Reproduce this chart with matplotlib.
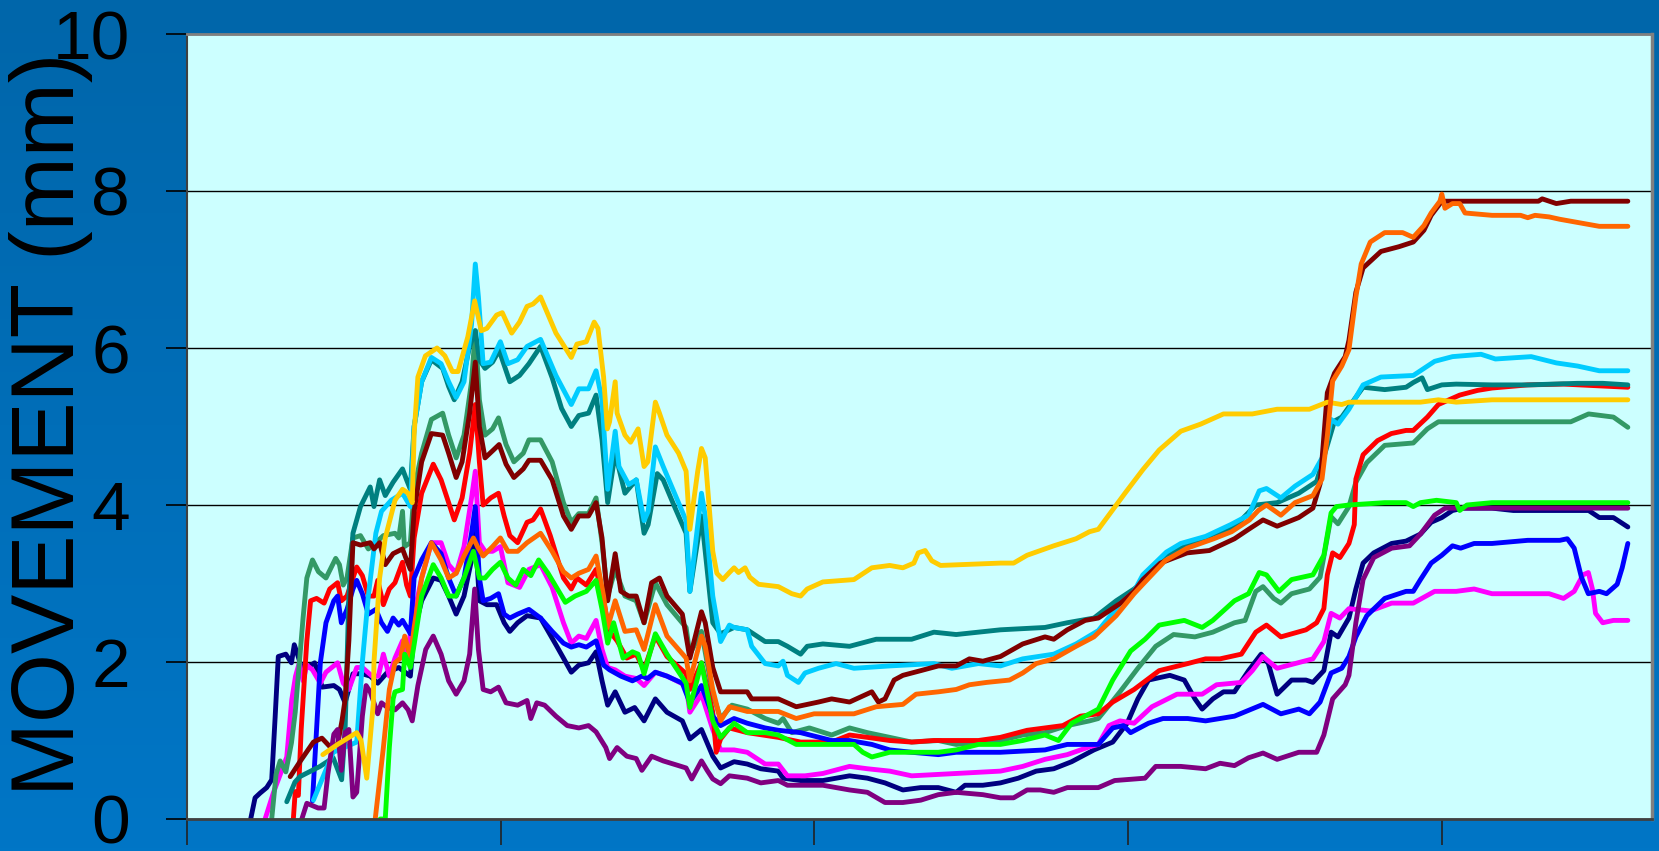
import numpy as np
import matplotlib
matplotlib.use('Agg')
from matplotlib import pyplot as plt
from matplotlib.colors import LinearSegmentedColormap
from matplotlib.patches import Arc

plt.rcParams['font.family'] = ['Liberation Sans', 'DejaVu Sans']

# data: (x, movement mm), x in tick units (ticks every 100)
navy = [(20.3,0),(21.7,0.27),(23.3,0.33),(25.4,0.40),(27.0,0.50),(28.1,1.30),(29.1,2.07),(31.5,2.10),(33.3,1.99),(34.2,2.22),(35.2,2.10),(36.5,1.93),(38.2,1.93),(40.7,1.99),(43.1,1.68),(46.8,1.70),(48.6,1.65),(50.4,1.48),(52.9,1.85),(55.9,1.85),(58.4,1.82),(60.8,1.73),(63.9,1.87),(67.5,1.93),(71.2,1.82),(72.4,2.39),(74.8,2.78),(78.5,3.07),(81.0,3.04),(83.4,2.84),(85.8,2.61),(88.3,2.84),(90.7,3.30),(91.9,3.64),(93.2,2.78),(95.6,2.73),(98.7,2.73),(101.1,2.50),(102.9,2.39),(105.4,2.50),(108.4,2.59),(112.7,2.56),(117.6,2.22),(120.0,2.05),(122.5,1.87),(124.9,1.96),(128.0,1.99),(130.4,2.13),(132.3,1.76),(134.1,1.45),(136.5,1.62),(139.6,1.36),(142.7,1.42),(145.7,1.25),(149.3,1.53),(153.0,1.36),(157.9,1.25),(160.3,1.02),(164.0,1.14),(167.6,0.80),(170.1,0.65),(174.4,0.73),(178.6,0.70),(182.9,0.64),(188.5,0.61),(190.0,0.52),(195.6,0.49),(202.7,0.49),(211.2,0.55),(216.9,0.52),(222.5,0.46),(228.2,0.37),(233.9,0.40),(239.5,0.40),(245.2,0.34),(248.0,0.43),(253.7,0.43),(259.3,0.46),(265.0,0.52),(270.7,0.61),(276.3,0.64),(282.0,0.73),(289.1,0.88),(295.1,0.98),(299.7,1.22),(303.1,1.53),(306.5,1.77),(313.3,1.83),(317.9,1.77),(321.3,1.53),(323.6,1.40),(327.0,1.53),(330.4,1.62),(333.9,1.62),(338.4,1.89),(342.4,2.10),(344.7,1.98),(347.5,1.59),(352.1,1.77),(356.7,1.77),(358.9,1.74),(362.4,1.89),(364.7,2.38),(366.9,2.32),(370.4,2.56),(372.6,2.93),(374.9,3.26),(378.3,3.39),(384.0,3.51),(388.6,3.54),(393.2,3.63),(396.6,3.78),(400.0,3.84),(403.4,3.93),(406.8,3.96),(416.0,3.96),(422.8,3.93),(438.8,3.93),(446.8,3.93),(450.2,3.84),(454.7,3.84),(459.3,3.72)]

magenta = [(24.9,0),(27.5,0.33),(31.8,0.79),(33.4,1.52),(34.6,1.82),(35.8,1.99),(37.0,1.76),(38.2,1.96),(40.0,1.90),(42.5,1.73),(44.3,1.87),(48.0,1.99),(49.8,1.73),(51.6,1.65),(54.1,1.93),(55.9,1.93),(59.0,1.82),(61.0,1.82),(62.6,2.10),(64.5,1.82),(66.3,2.05),(68.7,2.27),(70.0,2.10),(72.4,2.61),(74.8,3.07),(77.9,3.52),(81.0,3.52),(83.4,3.24),(85.8,3.13),(88.3,3.47),(90.7,4.09),(91.9,4.43),(93.2,3.52),(95.0,3.41),(97.4,3.41),(99.9,3.47),(102.3,3.01),(106.0,2.95),(109.0,3.18),(112.7,3.24),(116.4,2.95),(120.0,2.50),(122.5,2.24),(124.9,2.33),(127.3,2.30),(130.4,2.53),(132.3,2.16),(134.1,1.93),(136.5,1.90),(139.6,1.82),(143.2,1.79),(145.7,1.70),(149.3,1.87),(153.0,1.82),(159.1,1.70),(160.3,1.36),(164.0,1.59),(167.6,1.14),(170.1,0.88),(174.4,0.88),(178.6,0.85),(184.3,0.70),(188.5,0.70),(191.4,0.55),(197.0,0.55),(202.7,0.58),(211.2,0.67),(216.9,0.64),(224.0,0.61),(231.0,0.55),(245.2,0.58),(259.3,0.61),(266.4,0.67),(273.5,0.76),(280.6,0.82),(287.7,0.92),(290.5,0.95),(293.9,1.19),(297.4,1.25),(301.9,1.22),(307.6,1.43),(315.6,1.59),(323.6,1.59),(328.2,1.71),(336.1,1.74),(339.6,1.89),(343.0,2.07),(347.5,1.92),(358.9,2.04),(362.4,2.26),(364.7,2.62),(367.5,2.56),(370.4,2.68),(377.2,2.65),(384.0,2.75),(390.9,2.75),(397.7,2.90),(404.6,2.90),(410.3,2.93),(416.0,2.87),(434.2,2.87),(438.8,2.81),(442.2,2.90),(445.0,3.11),(446.7,3.14),(448.0,2.93),(449.0,2.62),(451.3,2.50),(454.7,2.53),(459.3,2.53)]

seagreen = [(27.0,0),(28.4,0.57),(29.7,0.74),(31.5,0.60),(33.3,0.97),(34.5,1.36),(37.0,2.56),(38.2,3.07),(40.0,3.30),(41.9,3.15),(44.3,3.07),(47.4,3.32),(48.6,3.24),(49.8,2.98),(51.0,3.07),(52.9,3.58),(55.3,3.61),(57.8,3.44),(60.2,3.52),(62.6,3.61),(66.3,3.64),(67.5,3.58),(68.7,3.92),(69.3,3.47),(71.2,3.52),(72.4,4.20),(74.8,4.66),(77.9,5.09),(81.5,5.17),(83.4,4.89),(85.8,4.60),(88.3,4.89),(90.7,5.57),(91.9,6.22),(93.2,5.34),(95.0,4.89),(97.4,4.97),(99.3,5.11),(101.7,4.77),(104.2,4.55),(107.2,4.66),(109.0,4.83),(112.7,4.83),(116.4,4.55),(120.0,4.03),(122.5,3.78),(124.9,3.89),(128.0,3.89),(130.4,4.09),(132.3,3.52),(134.1,2.84),(136.5,3.18),(139.6,2.84),(143.2,2.78),(145.7,2.50),(149.3,3.01),(153.0,2.73),(159.1,2.44),(160.3,2.10),(164.0,2.39),(167.6,1.59),(170.1,1.28),(173.7,1.45),(178.6,1.40),(184.3,1.28),(188.5,1.22),(190.0,1.28),(192.8,1.10),(198.4,1.16),(205.5,1.07),(211.2,1.16),(216.9,1.10),(224.0,1.04),(231.0,0.98),(239.5,1.00),(245.2,0.95),(252.3,0.98),(259.3,1.00),(266.4,1.07),(273.5,1.10),(280.6,1.19),(287.7,1.25),(290.5,1.28),(294.8,1.49),(297.4,1.62),(303.1,1.92),(308.8,2.20),(314.5,2.35),(321.3,2.32),(327.0,2.38),(333.9,2.50),(337.3,2.53),(340.7,2.90),(343.0,2.96),(346.4,2.81),(348.7,2.75),(352.1,2.87),(357.8,2.93),(361.2,3.08),(364.7,3.85),(366.9,3.76),(370.4,3.98),(372.6,4.29),(376.1,4.54),(381.8,4.76),(390.9,4.79),(395.4,4.97),(398.9,5.06),(416.0,5.06),(441.1,5.06),(446.8,5.16),(454.7,5.12),(459.3,4.99)]

red = [(33.9,0),(34.5,0.35),(35.5,0.30),(36.4,1.14),(38.2,2.27),(39.4,2.78),(41.3,2.81),(43.7,2.75),(45.5,2.93),(48.0,3.01),(49.2,2.78),(51.0,2.84),(52.9,3.07),(54.1,3.21),(55.9,3.10),(57.8,2.84),(59.6,2.84),(60.8,3.04),(62.6,2.73),(64.5,2.93),(66.3,3.01),(68.7,3.27),(70.0,2.98),(71.2,2.84),(72.4,3.58),(74.8,4.15),(78.5,4.52),(81.0,4.32),(83.4,4.03),(85.2,3.81),(87.7,4.09),(90.1,4.66),(91.9,5.28),(93.2,4.55),(94.4,4.00),(96.8,4.09),(99.3,4.15),(101.1,3.86),(102.9,3.61),(105.4,3.52),(108.4,3.78),(110.3,3.81),(112.7,3.95),(115.8,3.61),(120.0,3.07),(122.5,2.93),(124.3,3.07),(127.3,2.98),(130.4,3.18),(132.8,2.78),(134.7,2.39),(137.1,2.27),(140.2,2.05),(143.2,2.10),(145.7,1.90),(149.3,2.33),(153.0,2.07),(159.1,1.85),(160.3,1.65),(164.0,1.99),(167.6,1.36),(168.7,0.85),(170.1,1.02),(172.9,1.16),(178.6,1.10),(188.5,1.04),(195.6,0.98),(205.5,0.98),(211.2,1.07),(216.9,1.04),(224.0,1.00),(231.0,0.98),(238.1,1.00),(252.3,1.00),(259.3,1.04),(267.8,1.13),(273.5,1.16),(279.2,1.19),(284.8,1.31),(290.5,1.34),(295.1,1.49),(301.9,1.65),(309.9,1.89),(319.0,1.98),(324.7,2.04),(329.3,2.04),(336.1,2.10),(340.7,2.38),(344.1,2.47),(348.7,2.32),(356.7,2.41),(360.1,2.50),(362.4,2.68),(363.5,3.11),(365.2,3.39),(367.5,3.33),(370.4,3.51),(372.1,3.75),(372.6,4.33),(374.9,4.64),(379.5,4.82),(383.9,4.91),(388.6,4.95),(390.9,4.95),(395.4,5.12),(398.9,5.28),(402.3,5.34),(405.7,5.40),(411.4,5.46),(416.0,5.49),(427.4,5.53),(438.8,5.54),(459.3,5.50)]

blue = [(40.0,0.23),(41.3,1.14),(42.5,1.99),(44.3,2.50),(46.8,2.78),(48.0,2.84),(49.2,2.50),(51.0,2.67),(52.9,2.93),(54.1,3.04),(55.9,2.87),(57.8,2.61),(60.2,2.67),(62.0,2.50),(63.9,2.39),(65.7,2.56),(67.5,2.47),(68.7,2.53),(70.5,2.41),(71.2,2.36),(72.4,3.07),(74.8,3.30),(77.9,3.52),(81.0,3.38),(83.4,3.07),(85.8,2.84),(88.3,3.07),(90.7,3.64),(91.9,3.98),(93.2,3.07),(94.4,2.78),(96.8,2.81),(99.3,2.87),(101.1,2.61),(102.9,2.56),(105.4,2.61),(109.0,2.67),(112.7,2.56),(116.4,2.39),(120.0,2.24),(122.5,2.19),(124.9,2.22),(127.3,2.19),(130.4,2.27),(132.8,1.96),(134.7,1.90),(138.3,1.82),(142.0,1.76),(145.0,1.82),(146.8,1.79),(149.3,1.87),(153.0,1.82),(157.9,1.73),(160.3,1.48),(164.0,1.70),(167.6,1.31),(170.1,1.19),(174.4,1.28),(178.6,1.22),(184.3,1.16),(188.5,1.13),(195.6,1.10),(205.5,1.00),(211.2,1.00),(218.3,0.95),(224.0,0.88),(231.0,0.85),(239.5,0.82),(245.2,0.85),(259.3,0.85),(273.5,0.88),(280.6,0.95),(290.5,0.95),(295.1,1.16),(298.5,1.19),(300.8,1.10),(306.5,1.22),(311.1,1.28),(319.0,1.28),(324.7,1.25),(333.9,1.31),(343.0,1.46),(348.7,1.34),(354.4,1.40),(357.8,1.34),(361.2,1.49),(364.7,1.86),(368.1,1.92),(370.4,2.07),(372.6,2.32),(376.1,2.59),(381.8,2.81),(388.6,2.90),(390.9,2.90),(393.2,3.05),(396.6,3.26),(400.0,3.36),(403.4,3.48),(406.0,3.45),(410.3,3.51),(416.0,3.51),(427.4,3.55),(437.6,3.55),(440.0,3.57),(442.2,3.45),(444.5,3.08),(446.7,2.87),(450.2,2.90),(452.5,2.87),(455.9,2.99),(457.5,3.20),(459.3,3.51)]

teal = [(31.8,0.22),(34.4,0.47),(36.0,0.54),(42.4,0.67),(46.6,0.78),(49.3,0.50),(50.4,1.14),(51.6,2.84),(52.9,3.64),(55.3,3.98),(58.4,4.23),(59.6,3.98),(61.4,4.32),(63.2,4.12),(65.7,4.29),(68.7,4.46),(70.0,4.32),(71.2,4.20),(72.4,5.00),(74.8,5.57),(77.9,5.85),(81.5,5.74),(83.4,5.51),(85.2,5.34),(87.7,5.57),(90.1,6.02),(91.9,6.22),(93.2,5.85),(95.0,5.74),(97.4,5.82),(99.5,5.97),(102.9,5.57),(106.0,5.65),(109.0,5.80),(112.7,6.02),(116.4,5.62),(119.4,5.23),(122.5,5.00),(124.9,5.14),(128.0,5.17),(130.4,5.40),(132.3,4.83),(134.1,4.03),(136.5,4.66),(139.6,4.15),(143.2,4.32),(145.7,3.64),(147.0,3.75),(149.9,4.40),(151.8,4.32),(155.4,3.98),(159.1,3.64),(160.3,2.90),(164.0,3.86),(167.6,2.50),(170.1,2.36),(174.4,2.44),(178.6,2.41),(184.3,2.26),(188.5,2.26),(191.4,2.20),(195.6,2.10),(197.7,2.20),(202.7,2.23),(211.2,2.20),(219.7,2.29),(231.0,2.29),(238.1,2.38),(245.2,2.35),(259.3,2.41),(273.5,2.44),(280.6,2.50),(289.1,2.56),(296.2,2.78),(301.9,2.93),(304.7,3.02),(311.8,3.36),(320.3,3.51),(327.3,3.63),(333.9,3.72),(340.7,4.00),(347.5,4.03),(354.4,4.15),(360.1,4.30),(363.5,4.76),(365.8,5.07),(368.1,5.12),(370.4,5.25),(374.9,5.50),(381.8,5.47),(388.6,5.50),(390.9,5.56),(393.7,5.62),(395.4,5.47),(400.0,5.53),(404.6,5.54),(416.0,5.53),(427.4,5.53),(443.3,5.55),(451.3,5.55),(459.3,5.53)]

skyblue = [(40.3,0.24),(46.6,0.85),(54.1,0.98),(55.9,2.00),(57.8,2.84),(60.2,3.64),(62.0,3.92),(65.1,4.06),(68.7,4.15),(71.2,3.98),(72.4,5.00),(74.8,5.57),(77.9,5.88),(81.0,5.80),(83.4,5.57),(85.8,5.37),(88.3,5.57),(90.7,6.30),(91.9,7.07),(92.9,6.65),(94.4,5.80),(96.8,5.82),(99.9,6.08),(102.3,5.80),(105.4,5.85),(108.4,6.02),(112.7,6.11),(117.6,5.65),(122.5,5.28),(124.9,5.48),(128.0,5.48),(130.4,5.71),(132.3,5.34),(134.1,4.20),(136.5,4.94),(137.7,4.49),(140.8,4.26),(143.2,4.32),(145.7,3.80),(147.0,3.92),(149.3,4.74),(151.8,4.49),(155.4,4.15),(159.1,3.80),(160.3,2.90),(164.0,4.15),(165.2,3.86),(167.6,2.84),(170.1,2.26),(172.9,2.47),(174.4,2.44),(178.6,2.41),(180.0,2.20),(184.3,1.98),(188.5,1.95),(190.0,2.01),(191.4,1.83),(194.9,1.74),(197.0,1.86),(201.3,1.92),(206.9,1.98),(212.6,1.92),(224.0,1.95),(238.1,1.98),(243.8,1.92),(252.3,1.98),(259.3,1.95),(266.4,2.04),(276.3,2.10),(283.4,2.23),(290.5,2.40),(297.6,2.75),(301.9,2.90),(304.7,3.11),(312.2,3.40),(316.8,3.51),(324.7,3.60),(332.7,3.75),(338.4,3.87),(341.8,4.18),(344.1,4.21),(348.7,4.09),(353.2,4.24),(358.9,4.39),(362.4,4.64),(364.7,5.09),(366.9,5.03),(370.4,5.22),(374.9,5.53),(380.6,5.63),(390.9,5.65),(394.3,5.74),(397.7,5.83),(403.4,5.89),(412.5,5.92),(417.1,5.86),(428.5,5.89),(436.5,5.81),(443.3,5.77),(450.2,5.71),(459.3,5.71)]

maroon = [(32.9,0.54),(36.0,0.73),(40.3,0.98),(43.0,1.03),(45.6,0.92),(48.0,0.95),(49.4,1.25),(50.4,1.52),(51.6,2.27),(52.9,3.52),(55.3,3.49),(58.4,3.52),(59.6,3.44),(61.4,3.52),(63.2,3.24),(65.7,3.38),(68.7,3.44),(70.0,3.30),(71.2,3.18),(72.4,3.92),(74.8,4.55),(77.9,4.91),(81.5,4.89),(83.4,4.66),(85.8,4.35),(87.7,4.55),(90.1,5.17),(91.9,5.82),(93.2,5.00),(95.0,4.60),(97.4,4.69),(99.5,4.77),(101.7,4.52),(104.2,4.35),(107.2,4.46),(109.0,4.57),(112.7,4.57),(116.4,4.32),(120.0,3.86),(122.5,3.69),(124.9,3.86),(128.0,3.86),(130.4,4.03),(132.3,3.58),(134.1,2.78),(136.5,3.38),(138.3,2.90),(140.8,2.84),(143.2,2.84),(145.7,2.50),(148.1,3.01),(150.6,3.07),(153.0,2.84),(157.9,2.61),(160.3,2.05),(164.0,2.64),(165.2,2.50),(167.6,1.93),(170.1,1.62),(172.9,1.62),(178.6,1.62),(180.0,1.53),(188.5,1.53),(194.2,1.43),(201.3,1.49),(205.5,1.53),(211.2,1.49),(218.3,1.62),(220.4,1.49),(222.5,1.53),(225.4,1.77),(228.2,1.83),(233.9,1.89),(239.5,1.95),(245.2,1.95),(249.4,2.04),(253.7,2.01),(259.3,2.07),(266.4,2.23),(273.5,2.32),(276.3,2.29),(280.6,2.41),(286.3,2.53),(290.5,2.56),(297.6,2.75),(301.9,2.90),(304.7,3.05),(310.3,3.26),(318.8,3.39),(325.9,3.42),(333.9,3.57),(338.4,3.69),(343.0,3.81),(347.5,3.73),(354.4,3.84),(358.9,3.96),(361.2,4.27),(363.5,5.43),(365.8,5.68),(369.2,5.89),(370.4,6.10),(372.6,6.71),(374.9,7.02),(380.6,7.23),(386.3,7.29),(390.9,7.35),(394.3,7.50),(396.6,7.69),(400.0,7.87),(416.0,7.87),(430.8,7.87),(432.0,7.90),(436.5,7.84),(441.1,7.87),(459.3,7.87)]

purple = [(36.6,0),(38.2,0.20),(41.8,0.14),(43.7,0.14),(44.9,0.57),(46.8,1.08),(48.0,1.14),(49.2,0.62),(50.4,1.10),(51.6,1.14),(52.9,0.28),(54.1,0.34),(55.9,1.31),(57.1,1.70),(58.4,1.62),(59.6,1.48),(60.8,1.34),(62.0,1.48),(63.9,1.42),(66.3,1.39),(68.7,1.48),(70.5,1.39),(71.8,1.25),(73.6,1.70),(76.1,2.16),(78.5,2.33),(81.0,2.10),(83.4,1.76),(85.8,1.59),(88.3,1.76),(90.1,2.10),(91.7,2.93),(92.9,2.16),(94.4,1.65),(96.8,1.62),(99.3,1.68),(101.7,1.48),(105.4,1.45),(108.4,1.51),(109.6,1.28),(111.5,1.48),(114.0,1.45),(117.6,1.31),(121.2,1.19),(124.9,1.16),(128.0,1.19),(130.4,1.11),(133.5,0.91),(134.7,0.77),(137.1,0.91),(140.2,0.80),(143.2,0.77),(145.0,0.62),(148.1,0.80),(151.8,0.74),(156.7,0.68),(159.1,0.65),(160.9,0.51),(164.0,0.74),(165.8,0.62),(167.6,0.51),(170.1,0.45),(172.9,0.55),(178.6,0.52),(182.9,0.46),(188.5,0.49),(191.4,0.43),(202.7,0.43),(211.2,0.37),(216.9,0.34),(222.5,0.21),(228.2,0.21),(233.9,0.24),(239.5,0.31),(245.2,0.34),(253.7,0.31),(259.3,0.27),(263.5,0.27),(267.8,0.37),(272.0,0.37),(276.3,0.34),(280.6,0.40),(290.5,0.40),(295.7,0.49),(305.4,0.52),(308.8,0.67),(316.8,0.67),(324.7,0.64),(329.3,0.71),(333.9,0.68),(338.4,0.78),(343.0,0.84),(347.5,0.76),(354.4,0.85),(360.1,0.85),(362.4,1.07),(365.2,1.53),(369.2,1.71),(370.4,1.83),(372.6,2.50),(374.9,3.05),(378.3,3.33),(384.0,3.45),(389.7,3.48),(393.2,3.63),(397.7,3.87),(401.1,3.96),(416.0,3.96),(459.3,3.96)]

gold = [(43.3,0.82),(48.0,0.95),(54.1,1.10),(55.5,1.00),(57.3,0.52),(59.4,1.48),(59.6,2.00),(61.4,3.07),(63.2,3.58),(66.3,4.06),(68.7,4.20),(70.5,4.15),(71.8,4.03),(72.4,4.90),(73.6,5.63),(76.0,5.90),(79.7,6.00),(82.2,5.90),(84.6,5.70),(86.4,5.70),(89.5,6.14),(91.7,6.60),(93.8,6.22),(95.6,6.25),(98.7,6.42),(100.5,6.45),(103.5,6.19),(106.0,6.33),(108.4,6.53),(110.3,6.56),(112.7,6.65),(117.6,6.19),(122.5,5.88),(124.3,6.05),(127.3,6.08),(129.8,6.33),(131.0,6.25),(132.8,5.63),(134.0,4.97),(134.7,5.06),(136.5,5.57),(137.1,5.17),(139.6,4.89),(141.4,4.80),(143.8,4.97),(145.7,4.49),(146.9,4.55),(149.3,5.31),(150.6,5.17),(153.0,4.89),(156.7,4.66),(159.1,4.43),(160.3,3.69),(162.8,4.43),(164.0,4.72),(165.2,4.60),(167.6,3.41),(168.9,3.13),(170.8,3.05),(172.9,3.14),(174.4,3.20),(175.8,3.14),(177.9,3.20),(179.4,3.08),(182.2,2.99),(188.5,2.96),(192.8,2.87),(195.6,2.84),(197.7,2.93),(202.7,3.02),(212.6,3.05),(218.3,3.20),(224.0,3.23),(228.2,3.20),(231.7,3.26),(233.1,3.39),(235.3,3.42),(237.4,3.29),(240.2,3.23),(259.3,3.26),(263.5,3.26),(267.8,3.36),(276.3,3.48),(283.4,3.57),(287.7,3.66),(290.5,3.69),(299.0,4.15),(304.7,4.45),(309.9,4.70),(316.8,4.94),(323.1,5.03),(330.4,5.16),(339.6,5.16),(347.5,5.22),(357.8,5.22),(363.5,5.31),(368.1,5.28),(370.4,5.31),(393.2,5.31),(398.9,5.34),(404.6,5.31),(416.0,5.34),(459.3,5.34)]

orange = [(60.0,0),(62.6,0.91),(64.5,1.65),(66.3,1.99),(68.1,2.05),(69.4,2.33),(71.2,2.05),(72.4,2.44),(74.8,3.07),(77.9,3.52),(81.0,3.30),(83.4,3.07),(85.8,3.13),(88.3,3.35),(91.3,3.58),(92.6,3.47),(94.4,3.35),(97.4,3.47),(99.9,3.58),(102.3,3.41),(105.4,3.41),(108.4,3.52),(112.7,3.64),(116.4,3.41),(120.0,3.15),(122.5,3.07),(124.9,3.13),(128.0,3.18),(130.4,3.35),(132.8,2.84),(134.1,2.44),(136.5,2.78),(139.6,2.39),(143.2,2.41),(145.7,2.16),(149.3,2.73),(153.0,2.33),(159.1,2.05),(160.3,1.76),(164.0,2.33),(165.2,2.20),(167.6,1.65),(170.1,1.25),(172.9,1.43),(178.6,1.37),(188.5,1.37),(194.2,1.28),(199.9,1.34),(212.6,1.34),(219.7,1.43),(228.2,1.46),(232.4,1.59),(239.5,1.62),(245.2,1.65),(249.4,1.71),(254.9,1.74),(262.2,1.77),(266.4,1.86),(270.7,1.98),(276.3,2.04),(283.4,2.20),(289.1,2.32),(296.2,2.59),(301.9,2.87),(304.7,2.99),(311.8,3.29),(318.8,3.45),(327.3,3.57),(333.0,3.66),(338.7,3.81),(341.5,3.93),(344.1,4.00),(348.7,3.87),(353.2,4.03),(358.9,4.12),(361.8,4.33),(363.5,4.88),(365.2,5.58),(368.1,5.77),(370.4,5.98),(372.6,6.65),(374.3,7.07),(377.2,7.35),(381.8,7.47),(387.5,7.47),(390.9,7.41),(394.3,7.56),(396.6,7.72),(399.4,7.87),(400.0,7.96),(401.0,7.78),(403.4,7.84),(405.7,7.84),(407.4,7.72),(416.0,7.69),(425.1,7.69),(427.4,7.66),(429.7,7.69),(434.2,7.67),(437.6,7.64),(450.2,7.55),(459.3,7.55)]

green = [(61.6,0),(63.2,0),(64.5,0.91),(65.7,1.53),(66.3,1.62),(68.7,1.65),(69.4,2.10),(71.2,1.93),(72.4,2.22),(74.8,2.84),(78.5,3.24),(81.0,3.07),(83.4,2.84),(85.8,2.84),(88.3,3.07),(91.3,3.41),(93.2,3.07),(95.0,3.07),(97.4,3.18),(99.9,3.27),(102.3,3.07),(104.8,2.98),(107.2,3.18),(109.6,3.10),(112.1,3.30),(115.1,3.13),(120.6,2.76),(123.7,2.84),(127.3,2.90),(130.4,3.04),(132.3,2.67),(134.1,2.24),(136.0,2.50),(139.0,2.05),(142.0,2.13),(143.8,2.10),(145.7,1.85),(149.3,2.36),(153.0,2.10),(159.1,1.73),(160.3,1.42),(164.0,1.99),(167.6,1.25),(170.1,1.04),(174.4,1.22),(178.6,1.10),(184.3,1.10),(188.5,1.07),(194.2,0.95),(212.6,0.95),(215.4,0.85),(218.3,0.79),(224.0,0.85),(239.5,0.85),(245.2,0.88),(252.3,0.95),(259.3,0.95),(266.4,1.00),(273.5,1.07),(277.8,1.00),(282.0,1.22),(287.7,1.34),(290.5,1.40),(295.1,1.77),(300.8,2.14),(305.4,2.29),(309.9,2.47),(317.9,2.53),(323.6,2.44),(327.0,2.53),(333.9,2.78),(338.4,2.87),(341.8,3.14),(344.1,3.11),(348.1,2.90),(352.1,3.05),(358.9,3.11),(362.4,3.36),(364.7,3.90),(366.4,3.98),(370.4,4.00),(381.8,4.03),(388.6,4.03),(390.9,3.98),(393.2,4.03),(398.3,4.06),(404.6,4.03),(405.7,3.93),(408.0,4.00),(416.0,4.03),(459.3,4.03)]

series = [
    (navy, '#000080'), (magenta, '#FF00FF'), (seagreen, '#339966'),
    (red, '#FF0000'), (blue, '#0000FF'), (teal, '#008080'),
    (skyblue, '#00CCFF'), (maroon, '#800000'), (purple, '#800080'),
    (gold, '#FFCC00'), (orange, '#FF6600'), (green, '#00FF00'),
]

y_ticks = [0, 2, 4, 6, 8, 10]
x_ticks = [0, 100, 200, 300, 400]

W, H = 1659, 851
fig = plt.figure(figsize=(W / 100, H / 100), dpi=100)

# blue slide background
bg = fig.add_axes([0, 0, 1, 1], zorder=0)
grad = np.linspace(0, 1, 256).reshape(-1, 1)
cmap = LinearSegmentedColormap.from_list('bgblue', ['#0066AA', '#0076C6'])
bg.imshow(grad, aspect='auto', cmap=cmap, extent=[0, W, H, 0])
for r in [150, 178, 206]:
    bg.add_patch(Arc((1420, 990), 2 * r * 1.6, 2 * r, theta1=60, theta2=120,
                     color='#1E8EE0', lw=3, alpha=0.7))
bg.set_xlim(0, W)
bg.set_ylim(H, 0)
bg.axis('off')

ax = fig.add_axes([187 / W, 1 - 819 / H, (1652 - 187) / W, (819 - 34) / H], zorder=1)
ax.set_facecolor('#CCFFFF')

for pts, col in series:
    xs, ys = zip(*pts)
    ax.plot(xs, ys, color=col, lw=3.5, solid_joinstyle='round', solid_capstyle='round')

ax.set_xlim(0, 467)
ax.set_ylim(0, 10)
ax.set_xticks(x_ticks)
ax.set_xticklabels([])
ax.set_yticks(y_ticks)
ax.set_yticklabels([str(v) for v in y_ticks], fontsize=50)
ax.yaxis.grid(True, color='black', lw=1)
ax.set_axisbelow(True)
ax.tick_params(axis='y', direction='out', length=15, width=1.2, color='black', pad=26)
ax.tick_params(axis='x', direction='out', length=19, width=1.2, color='#222222')

ax.spines['left'].set_color('#404040')
ax.spines['left'].set_linewidth(1.5)
ax.spines['bottom'].set_color('#404040')
ax.spines['bottom'].set_linewidth(2)
ax.spines['top'].set_color('#808080')
ax.spines['top'].set_linewidth(2)
ax.spines['right'].set_color('#808080')
ax.spines['right'].set_linewidth(2.5)

fig.text(74 / W, 1 - 424 / H, 'MOVEMENT (mm)', rotation=90, rotation_mode='anchor',
         ha='center', va='baseline', fontsize=64, color='black')

plt.savefig('out.png', dpi=100)
